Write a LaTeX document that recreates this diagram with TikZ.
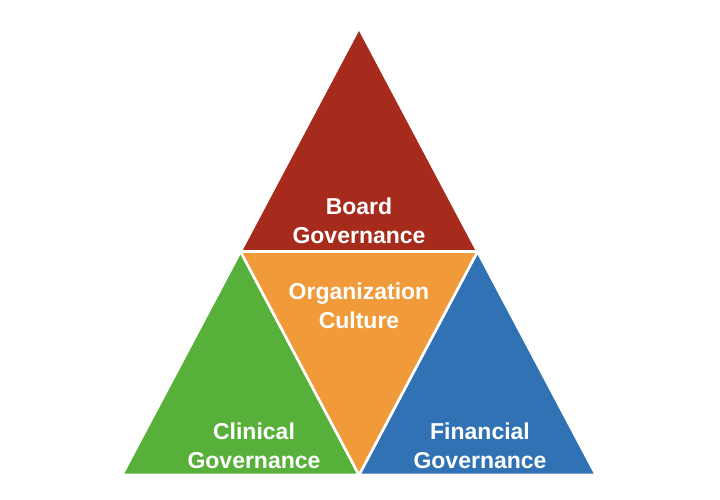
\documentclass[tikz,border=0pt]{standalone}
\usepackage{fontspec}
\setmainfont{Liberation Sans}
\definecolor{boardred}{RGB}{166,43,28}
\definecolor{cultureorange}{RGB}{240,154,58}
\definecolor{clinicalgreen}{RGB}{87,176,58}
\definecolor{financeblue}{RGB}{48,114,180}
\tikzset{
  tri/.style={draw=white,line width=2.6pt,line join=miter},
  lbl/.style={text=white,font=\bfseries\fontsize{23}{28.5}\selectfont,align=center}
}
\begin{document}
\begin{tikzpicture}[x=1pt,y=1pt,yscale=-1,xscale=1]
\useasboundingbox (0,0) rectangle (720,500);

%Triangle top
\draw [tri,fill=boardred] (359,28) -- (240.5,251.5) -- (477.5,251.5) -- cycle ;
%Triangle bottom left
\draw [tri,fill=clinicalgreen] (240.5,251.5) -- (122,475) -- (359,475) -- cycle ;
%Triangle bottom right
\draw [tri,fill=financeblue] (477.5,251.5) -- (359,475) -- (596,475) -- cycle ;
%Triangle middle (inverted)
\draw [tri,fill=cultureorange] (240.5,251.5) -- (477.5,251.5) -- (359,475) -- cycle ;

% Text Node
\node [lbl] (board) at (359,221) {Board\\Governance};
% Text Node
\node [lbl] (culture) at (359,306) {Organization\\Culture};
% Text Node
\node [lbl] (clinical) at (254,446) {Clinical\\Governance};
% Text Node
\node [lbl] (financial) at (480,446) {Financial\\Governance};

\end{tikzpicture}
\end{document}
